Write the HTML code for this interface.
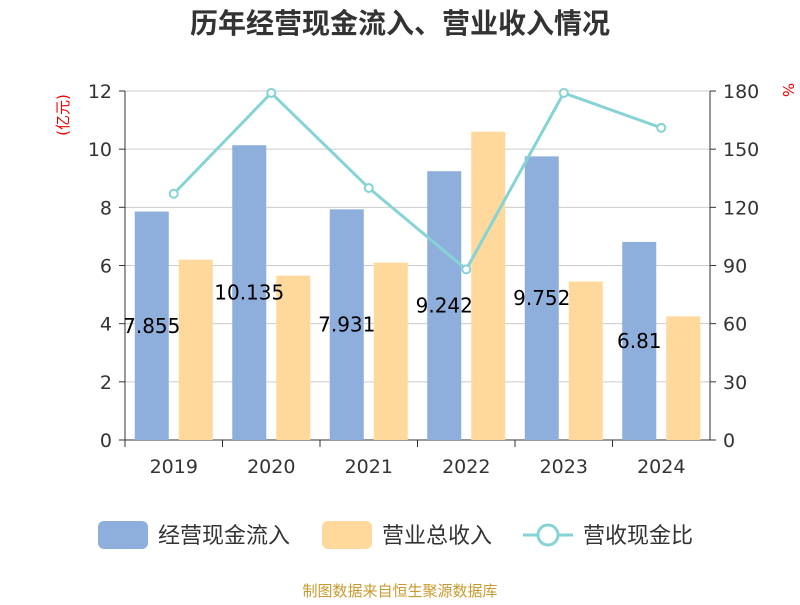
<!DOCTYPE html>
<html><head><meta charset="utf-8">
<style>
body{margin:0;background:#fff;font-family:"Liberation Sans","Noto Sans CJK SC",sans-serif;}
svg text{font-family:"DejaVu Sans","Noto Sans CJK SC",sans-serif;}
</style></head>
<body>
<svg id="chart" width="800" height="600" xmlns="http://www.w3.org/2000/svg">
<text x="400" y="33" text-anchor="middle" font-size="28" font-weight="bold" fill="#333">历年经营现金流入、营业收入情况</text>
<text transform="translate(68,115) rotate(-90)" text-anchor="middle" font-size="15" fill="#e00">(亿元)</text>
<text transform="translate(783,90) rotate(90)" text-anchor="middle" font-size="15" fill="#e00">%</text>
<g id="grid"></g><g id="bars"></g><g id="axes"></g><g id="line"></g><g id="labels"></g>
<g>
<rect x="98" y="521" width="50" height="28" rx="6" fill="#8eaedb"/>
<text x="158" y="543" font-size="22" fill="#333">经营现金流入</text>
<rect x="322" y="521" width="50" height="28" rx="6" fill="#fed99b"/>
<text x="382" y="543" font-size="22" fill="#333">营业总收入</text>
<line x1="523" y1="535" x2="573" y2="535" stroke="#86d3d6" stroke-width="3"/>
<circle cx="548" cy="535" r="10" fill="#fff" stroke="#86d3d6" stroke-width="3"/>
<text x="583" y="543" font-size="22" fill="#333">营收现金比</text>
</g>
<text x="400" y="596" text-anchor="middle" font-size="15" fill="#c99a2e">制图数据来自恒生聚源数据库</text>
</svg>
<script>
const categories=["2019","2020","2021","2022","2023","2024"];
const cashInflow=[7.855,10.135,7.931,9.242,9.752,6.81];
const revenue=[6.2,5.65,6.1,10.6,5.45,4.25];
const ratio=[127,179,130,88,179,161];
const leftTicks=[0,2,4,6,8,10,12];
const rightTicks=[0,30,60,90,120,150,180];
const NS="http://www.w3.org/2000/svg";
const X0=125,X1=710,Y0=440,Y1=91;
const bw=(X1-X0)/categories.length;
const yL=v=>Y0-(v/12)*(Y0-Y1);
const yR=v=>Y0-(v/180)*(Y0-Y1);
const xC=i=>X0+bw*(i+0.5);
function mk(t,a,p){const e=document.createElementNS(NS,t);for(const k in a)e.setAttribute(k,a[k]);(p||document.getElementById('chart')).appendChild(e);return e;}
const grid=document.getElementById('grid'),axes=document.getElementById('axes'),bars=document.getElementById('bars'),line=document.getElementById('line'),labels=document.getElementById('labels');
leftTicks.forEach((v,i)=>{
 const g=mk('line',{x1:X0,x2:X1,y1:yL(v),y2:yL(v),stroke:v===0?'#333':'#ccc','stroke-width':1},grid);
 
 
 const t=mk('text',{x:X0-13,y:yL(v)+7,'text-anchor':'end','font-size':19,fill:'#333'},axes);t.textContent=v;
 
 
 mk('line',{x1:X0-6,x2:X0,y1:yL(v),y2:yL(v),stroke:'#333'},axes);
});
rightTicks.forEach(v=>{
 const t=mk('text',{x:X1+13,y:yR(v)+7,'font-size':19,fill:'#333'},axes);t.textContent=v;
 
 
 mk('line',{x1:X1,x2:X1+6,y1:yR(v),y2:yR(v),stroke:'#333'},axes);
});
mk('line',{x1:X0,x2:X0,y1:Y1,y2:Y0,stroke:'#333'},axes);
mk('line',{x1:X1,x2:X1,y1:Y1,y2:Y0,stroke:'#333'},axes);
categories.forEach((c,i)=>{
 mk('line',{x1:X0+bw*i,x2:X0+bw*i,y1:Y0,y2:Y0+7,stroke:'#333'},axes);
 const t=mk('text',{x:xC(i),y:Y0+33,'text-anchor':'middle','font-size':19,fill:'#333'},axes);t.textContent=c;
 
 
 const b=mk('rect',{x:xC(i)-39,y:yL(cashInflow[i]),width:34,height:Y0-yL(cashInflow[i]),fill:'#8eaedb'},bars);
 
 
 const r=mk('rect',{x:xC(i)+5,y:yL(revenue[i]),width:34,height:Y0-yL(revenue[i]),fill:'#fed99b'},bars);
 
 
 const l=mk('text',{x:xC(i)-22,y:(yL(cashInflow[i])+Y0)/2+7,'text-anchor':'middle','font-size':20,fill:'#000'},labels);l.textContent=cashInflow[i];
 
 
});
mk('line',{x1:X1,x2:X1+6,y1:Y0,y2:Y0,stroke:'#333'},axes);
const pts=ratio.map((v,i)=>xC(i)+','+yR(v)).join(' ');
const pl=mk('polyline',{points:pts,fill:'none',stroke:'#86d3d6','stroke-width':3},line);


ratio.forEach((v,i)=>{
 const c=mk('circle',{cx:xC(i),cy:yR(v),r:4,fill:'#fff',stroke:'#86d3d6','stroke-width':2},line);
 
 
});
</script>
</body></html>
